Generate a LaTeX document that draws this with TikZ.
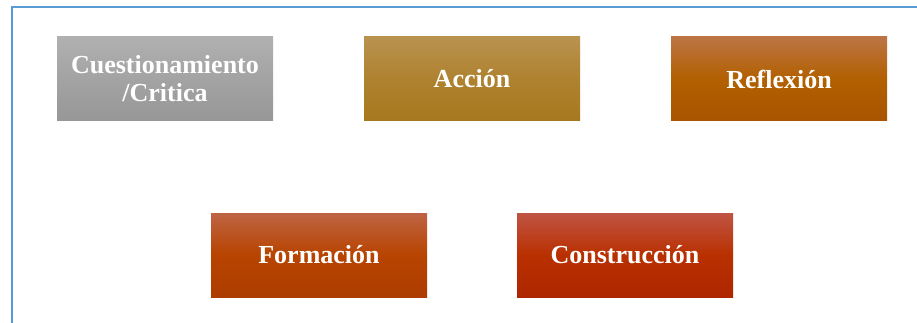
\documentclass[tikz,border=0pt]{standalone}
\usepackage{fontspec}
\setmainfont{Liberation Serif}
\begin{document}
\begin{tikzpicture}[x=1pt,y=-1pt,
  boxstyle/.style={rectangle, minimum width=216pt, minimum height=84pt, inner sep=0pt,
    align=center, text=white, font=\bfseries\fontsize{26}{28}\selectfont},
  frameline/.style={draw=frameblue, line width=2.2pt}]
\definecolor{frameblue}{HTML}{5B9BD5}
\definecolor{gtop}{HTML}{B0B0B0}\definecolor{gmid}{HTML}{A3A3A3}\definecolor{gbot}{HTML}{979797}
\definecolor{atop}{HTML}{B9924F}\definecolor{amid}{HTML}{AF8230}\definecolor{abot}{HTML}{A6781E}
\definecolor{rtop}{HTML}{BD7444}\definecolor{rmid}{HTML}{B26000}\definecolor{rbot}{HTML}{A85400}
\definecolor{ftop}{HTML}{BE6444}\definecolor{fmid}{HTML}{B84400}\definecolor{fbot}{HTML}{AC3C00}
\definecolor{ctop}{HTML}{C05444}\definecolor{cmid}{HTML}{B93000}\definecolor{cbot}{HTML}{AE2600}
\useasboundingbox (0,0) rectangle (917,323);
\fill[white] (0,0) rectangle (917,323);
\coordinate (ftr) at (930,7);
\coordinate (ftl) at (12,7);
\coordinate (fbl) at (12,340);
\draw[frameline] (ftr) -- (ftl) -- (fbl);
\node[boxstyle, top color=gtop, bottom color=gbot, middle color=gmid] (cuest) at (165,79) {Cuestionamiento\\/Critica};
\node[boxstyle, top color=atop, bottom color=abot, middle color=amid] (accion) at (472,79) {Acción};
\node[boxstyle, top color=rtop, bottom color=rbot, middle color=rmid] (reflex) at (779,79) {Reflexión};
\node[boxstyle, top color=ftop, bottom color=fbot, middle color=fmid] (forma) at (319,255) {Formación};
\node[boxstyle, top color=ctop, bottom color=cbot, middle color=cmid] (constr) at (625,255) {Construcción};
\end{tikzpicture}
\end{document}
